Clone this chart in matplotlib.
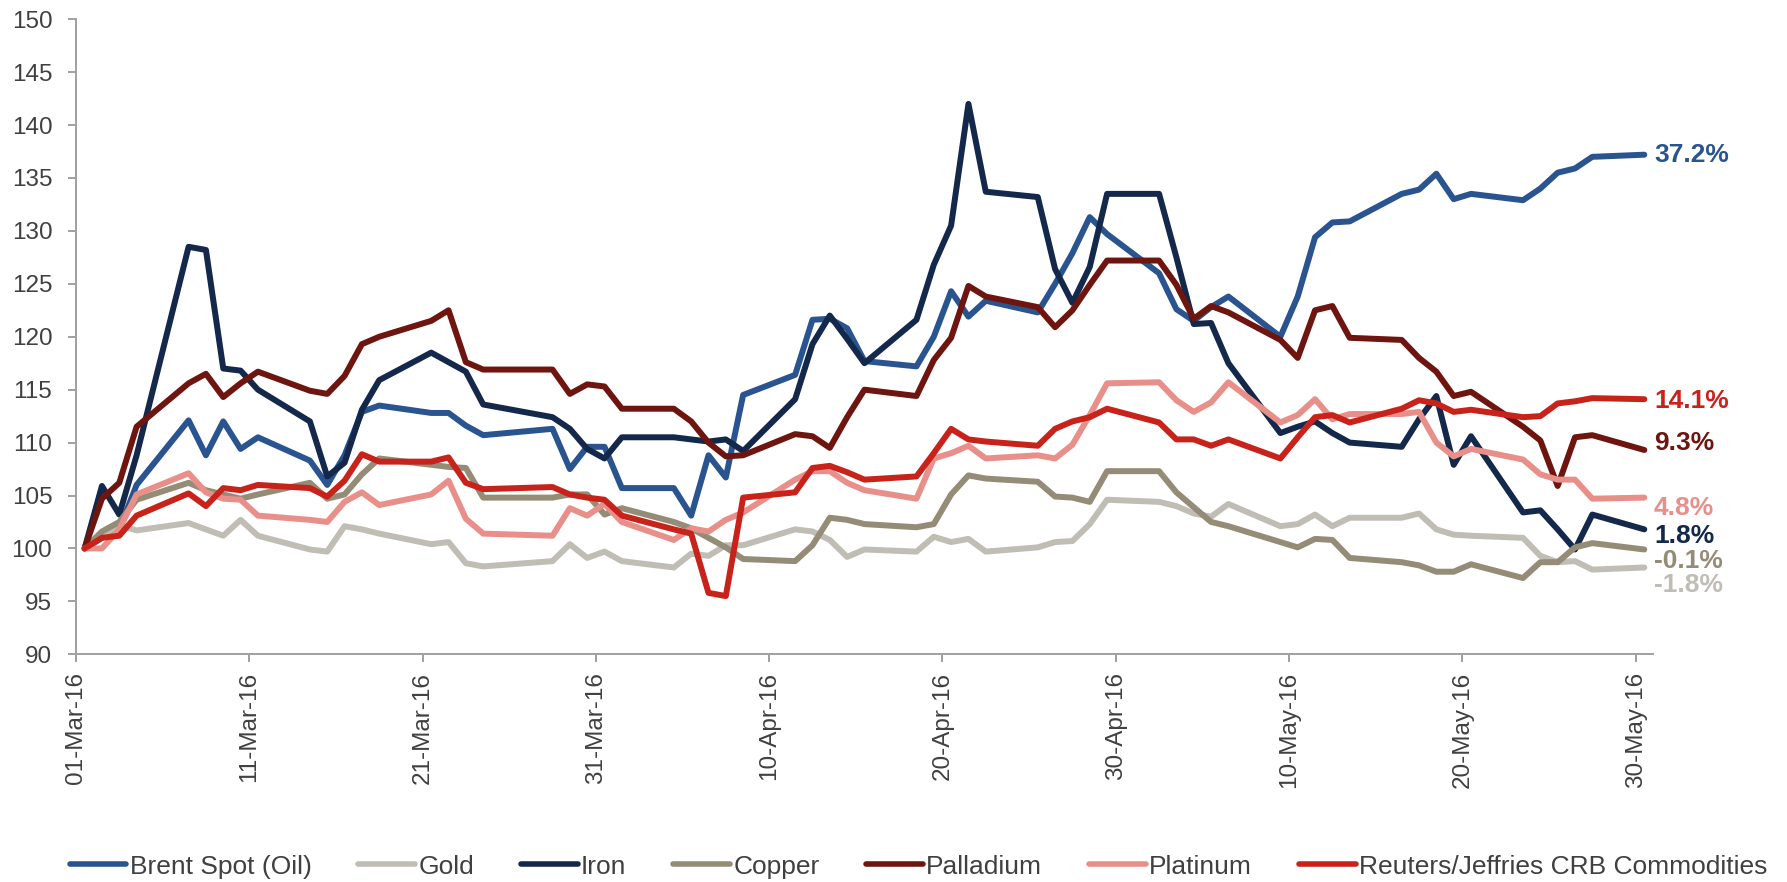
import numpy as np
import pandas as pd
import matplotlib
matplotlib.use('Agg')
import matplotlib.pyplot as plt
import matplotlib.dates as mdates

plt.rcParams['font.family'] = ['Liberation Sans', 'DejaVu Sans']

# trading days, Good Friday dropped
dates = pd.bdate_range('2016-03-01', '2016-05-30').drop(pd.Timestamp('2016-03-25'))

# rebased to 100 on 01-Mar-16
brent = [100.0, 101.0, 101.8, 106.0,
         112.1, 108.8, 112.0, 109.4, 110.5,
         108.3, 106.0, 108.8, 112.9, 113.5,
         112.8, 112.8, 111.6, 110.7,
         111.3, 107.5, 109.6, 109.6, 105.7,
         105.7, 103.1, 108.8, 106.7, 114.5,
         116.4, 121.6, 121.7, 120.8, 117.7,
         117.2, 120.0, 124.3, 121.9, 123.4,
         122.3, 125.0, 127.9, 131.3, 129.7,
         126.0, 122.6, 121.5, 122.8, 123.8,
         120.0, 123.8, 129.4, 130.8, 130.9,
         133.5, 133.9, 135.4, 133.0, 133.5,
         132.9, 134.0, 135.5, 135.9, 137.0,
         137.2]

gold = [100.0, 101.2, 102.2, 101.7,
        102.4, 101.8, 101.2, 102.7, 101.2,
        99.9, 99.7, 102.1, 101.8, 101.4,
        100.4, 100.6, 98.6, 98.3,
        98.8, 100.4, 99.1, 99.7, 98.8,
        98.2, 99.5, 99.3, 100.3, 100.3,
        101.8, 101.6, 100.8, 99.2, 99.9,
        99.7, 101.1, 100.6, 100.9, 99.7,
        100.1, 100.6, 100.7, 102.3, 104.6,
        104.4, 104.0, 103.3, 103.0, 104.2,
        102.1, 102.3, 103.2, 102.1, 102.9,
        102.9, 103.3, 101.8, 101.3, 101.2,
        101.0, 99.3, 98.7, 98.8, 98.0,
        98.2]

iron = [100.0, 105.9, 103.2, 108.8,
        128.5, 128.2, 117.0, 116.8, 115.0,
        112.0, 106.8, 108.1, 113.1, 115.9,
        118.5, 117.6, 116.7, 113.6,
        112.4, 111.3, 109.4, 108.5, 110.5,
        110.5, 110.3, 110.1, 110.3, 109.2,
        114.1, 119.3, 122.0, 119.8, 117.5,
        121.6, 126.8, 130.5, 142.0, 133.7,
        133.2, 126.4, 123.2, 126.6, 133.5,
        133.5, 127.5, 121.2, 121.3, 117.5,
        110.9, 111.5, 112.0, 110.9, 110.0,
        109.6, 112.2, 114.4, 107.9, 110.6,
        103.4, 103.6, 101.8, 99.9, 103.2,
        101.8]

copper = [100.0, 101.6, 102.5, 104.6,
          106.2, 105.5, 105.1, 104.7, 105.1,
          106.2, 104.7, 105.1, 107.0, 108.5,
          107.9, 107.7, 107.6, 104.8,
          104.8, 105.1, 105.1, 103.2, 103.8,
          102.5, 101.9, 101.0, 100.1, 99.0,
          98.8, 100.3, 102.9, 102.7, 102.3,
          102.0, 102.3, 105.1, 106.9, 106.6,
          106.3, 104.9, 104.8, 104.4, 107.3,
          107.3, 105.3, 103.9, 102.5, 102.1,
          100.6, 100.1, 100.9, 100.8, 99.1,
          98.7, 98.4, 97.8, 97.8, 98.5,
          97.2, 98.7, 98.7, 100.1, 100.5,
          99.9]

palladium = [100.0, 104.7, 106.2, 111.5,
             115.6, 116.5, 114.3, 115.6, 116.7,
             114.9, 114.6, 116.3, 119.3, 120.0,
             121.5, 122.5, 117.6, 116.9,
             116.9, 114.6, 115.5, 115.3, 113.2,
             113.2, 112.0, 110.0, 108.7, 108.8,
             110.8, 110.6, 109.5, 112.4, 115.0,
             114.4, 117.8, 119.9, 124.8, 123.8,
             122.8, 120.9, 122.5, 124.9, 127.2,
             127.2, 124.9, 121.7, 122.9, 122.3,
             119.7, 118.0, 122.5, 122.9, 119.9,
             119.7, 118.0, 116.7, 114.4, 114.8,
             111.5, 110.2, 105.9, 110.5, 110.7,
             109.3]

platinum = [100.0, 100.0, 101.8, 105.1,
            107.1, 105.3, 104.7, 104.6, 103.1,
            102.7, 102.5, 104.4, 105.3, 104.1,
            105.1, 106.4, 102.8, 101.4,
            101.2, 103.8, 103.1, 104.2, 102.5,
            100.8, 101.9, 101.6, 102.7, 103.4,
            106.5, 107.3, 107.3, 106.2, 105.5,
            104.7, 108.5, 109.0, 109.7, 108.5,
            108.8, 108.5, 109.8, 112.6, 115.6,
            115.7, 114.0, 112.9, 113.8, 115.7,
            111.9, 112.6, 114.1, 112.2, 112.7,
            112.7, 112.9, 110.0, 108.7, 109.4,
            108.4, 107.0, 106.5, 106.5, 104.7,
            104.8]

crb = [100.0, 101.0, 101.2, 103.1,
       105.2, 104.0, 105.7, 105.5, 106.0,
       105.7, 104.9, 106.4, 108.9, 108.2,
       108.2, 108.6, 106.2, 105.6,
       105.8, 105.1, 104.8, 104.6, 103.1,
       101.8, 101.4, 95.8, 95.5, 104.8,
       105.3, 107.6, 107.8, 107.2, 106.5,
       106.8, 109.0, 111.3, 110.3, 110.1,
       109.7, 111.3, 112.0, 112.4, 113.2,
       111.9, 110.3, 110.3, 109.7, 110.3,
       108.5, 110.5, 112.4, 112.6, 111.9,
       113.2, 114.0, 113.7, 112.9, 113.1,
       112.4, 112.5, 113.7, 113.9, 114.2,
       114.1]

names = ['Brent Spot (Oil)', 'Gold', 'Iron', 'Copper', 'Palladium', 'Platinum',
         'Reuters/Jeffries CRB Commodities']
series = [brent, gold, iron, copper, palladium, platinum, crb]
colors = ['#2A548F', '#C0BDB5', '#13284A', '#958C78', '#6F1510', '#E98F8A', '#C8231B']

# where the end-of-period labels sit (index level), nudged apart
label_y = [137.2, 96.5, 101.2, 98.8, 110.0, 103.8, 113.9]

fig = plt.figure(figsize=(17.87, 8.82), dpi=100)
ax = fig.add_axes([0.0425, 0.2582, 0.8825, 0.7200])

# each day is a bin on the date axis, points sit mid-day
x = dates + pd.Timedelta(hours=12)
for name, vals, c in zip(names, series, colors):
    ax.plot(x, vals, color=c, lw=4.3, label=name,
            solid_joinstyle='round', solid_capstyle='round')

for vals, c, ly in zip(series, colors, label_y):
    pct = vals[-1] - 100
    ax.annotate('%.1f%%' % pct, xy=(x[-1], ly), xytext=(7, 0),
                textcoords='offset points', ha='left', va='center',
                fontsize=19, fontweight='bold', color=c, annotation_clip=False)

ax.set_ylim(90, 150)
ax.set_yticks(np.arange(90, 151, 5))
ax.set_xlim(pd.Timestamp('2016-03-01'), pd.Timestamp('2016-05-31'))
ax.set_xticks(pd.date_range('2016-03-01', '2016-05-30', freq='10D'))
ax.xaxis.set_major_formatter(mdates.DateFormatter('%d-%b-%y'))

for s in ['top', 'right']:
    ax.spines[s].set_visible(False)
for s in ['left', 'bottom']:
    ax.spines[s].set_color('#A0A0A0')
    ax.spines[s].set_linewidth(1.4)

ax.tick_params(axis='both', direction='out', length=6, width=1.4, color='#A0A0A0',
               labelcolor='#404040', labelsize=17.5)
ax.tick_params(axis='y', pad=11)
ax.tick_params(axis='x', pad=6.5, labelrotation=90)

leg = fig.legend(loc='center', bbox_to_anchor=(0.514, 0.0174), ncol=7, frameon=False,
                 fontsize=19, handlelength=2.15, handletextpad=0.12, columnspacing=1.78,
                 labelcolor='#404040')
for h in leg.get_lines():
    h.set_linewidth(4.0)

fig.savefig('out.png', dpi=100)
